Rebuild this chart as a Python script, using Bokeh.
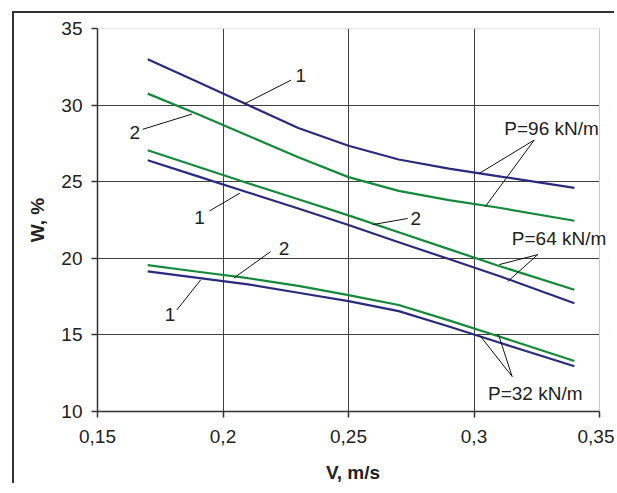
from bokeh.plotting import figure
from bokeh.models import Range1d, FixedTicker, Label
from bokeh.embed import file_html
from bokeh.resources import INLINE

# ---- data ----
v = [0.17, 0.19, 0.21, 0.23, 0.25, 0.27, 0.29, 0.31, 0.34]
w96_1 = [33.0, 31.5, 30.0, 28.5, 27.35, 26.45, 25.85, 25.35, 24.6]
w96_2 = [30.75, 29.4, 28.0, 26.6, 25.3, 24.4, 23.8, 23.3, 22.45]
w64_1 = [26.4, 25.35, 24.3, 23.25, 22.17, 21.05, 19.95, 18.85, 17.07]
w64_2 = [27.05, 25.98, 24.9, 23.85, 22.8, 21.7, 20.6, 19.5, 17.95]
w32_1 = [19.15, 18.72, 18.3, 17.75, 17.2, 16.55, 15.55, 14.5, 12.95]
w32_2 = [19.55, 19.12, 18.7, 18.2, 17.6, 16.95, 15.95, 14.9, 13.3]

x_ticks = [0.15, 0.2, 0.25, 0.3, 0.35]
x_tick_labels = ["0,15", "0,2", "0,25", "0,3", "0,35"]
y_ticks = [10, 15, 20, 25, 30, 35]

# annotation texts (centre positions in data units)
ann_text = ["1", "2", "1", "2", "2", "1", "P=96 kN/m", "P=64 kN/m", "P=32 kN/m"]
ann_x = [0.2310, 0.1649, 0.1907, 0.2768, 0.2243, 0.1789, 0.3309, 0.3339, 0.3244]
ann_y = [31.91, 28.2, 22.65, 22.6, 20.65, 16.30, 28.5, 21.26, 11.15]

# leader lines
lead_x0 = [0.2271, 0.1680, 0.1946, 0.2736, 0.3240, 0.3240, 0.3254, 0.3254, 0.3152, 0.3152, 0.2189, 0.1816]
lead_y0 = [31.63, 28.42, 23.09, 22.60, 27.72, 27.72, 20.24, 20.24, 12.28, 12.28, 20.43, 16.63]
lead_x1 = [0.2084, 0.1876, 0.2067, 0.2596, 0.3021, 0.3045, 0.3101, 0.3134, 0.3024, 0.3098, 0.2044, 0.1911]
lead_y1 = [30.07, 29.41, 24.25, 22.20, 25.54, 23.37, 19.59, 18.48, 14.95, 15.00, 18.72, 18.59]

NAVY = "#2a2a80"
GREEN = "#148a3a"
FONT = "Liberation Sans"

X0, X1 = x_ticks[0], x_ticks[-1]
Y0, Y1 = y_ticks[0], y_ticks[-1]
PX_PER_UNIT = 502 / (X1 - X0)

# outer frame drawn with CSS (margin 12/11 + 2px border)
ML, MT, BW = 12, 11, 2
BL, BT, FW, FH = 97 - ML - BW, 28 - MT - BW, 511, 383
X_END = X0 + FW / PX_PER_UNIT   # a little room so the right-hand labels are not clipped
WIDTH = 602
p = figure(width=WIDTH, height=BT + FH + 74, output_backend="svg", toolbar_location=None,
           x_range=Range1d(X0, X_END), y_range=Range1d(Y0, Y1),
           min_border_left=BL, min_border_right=WIDTH - BL - FW, min_border_top=BT,
           min_border_bottom=74)
p.styles = {"margin-left": f"{ML}px", "margin-top": f"{MT}px",
            "border-left": f"{BW}px solid #333333", "border-top": f"{BW}px solid #333333"}
p.outline_line_color = None

# axes
for ax in (p.xaxis[0], p.yaxis[0]):
    ax.axis_line_color = "#333333"
    ax.axis_line_width = 1.5
    ax.major_tick_line_color = "#333333"
    ax.major_tick_line_width = 1.5
    ax.major_tick_out = 6
    ax.major_tick_in = 0
    ax.minor_tick_line_color = None
    ax.major_label_text_font = FONT
    ax.major_label_text_font_size = "19px"
    ax.major_label_text_color = "#222222"
    ax.axis_label_text_font = FONT
    ax.axis_label_text_font_size = "19px"
    ax.axis_label_text_font_style = "bold"
    ax.axis_label_text_color = "#222222"

p.xaxis.ticker = FixedTicker(ticks=x_ticks)
p.xaxis.bounds = (X0, X1)
p.xaxis.major_label_overrides = dict(zip(x_ticks, x_tick_labels))
p.yaxis.ticker = FixedTicker(ticks=y_ticks)
p.xaxis.axis_label = "V, m/s"
p.yaxis.axis_label = "W, %"
p.xaxis.major_label_standoff = 12
p.yaxis.major_label_standoff = 9
p.xaxis.axis_label_standoff = 16
p.yaxis.axis_label_standoff = 10

p.xgrid.ticker = FixedTicker(ticks=x_ticks[1:-1])
p.ygrid.ticker = FixedTicker(ticks=y_ticks[1:-1])
for g in (p.xgrid[0], p.ygrid[0]):
    g.grid_line_color = "#404040"
    g.grid_line_width = 1

# blank out the strip right of the plot area (grid lines stop at X1)
p.quad(left=[X1 + 0.5 / PX_PER_UNIT], right=[X_END + 1], bottom=[Y0 - 5], top=[Y1 + 5],
       fill_color="white", line_color=None)

# light plot-area border (top and right)
p.segment(x0=[X0, X1], y0=[Y1, Y0], x1=[X1, X1], y1=[Y1, Y1], line_color="#cccccc", line_width=1)

# curves
for ys, c in ((w96_1, NAVY), (w96_2, GREEN), (w64_2, GREEN), (w64_1, NAVY),
              (w32_2, GREEN), (w32_1, NAVY)):
    p.line(v, ys, line_color=c, line_width=2.2)

# leader lines
p.segment(lead_x0, lead_y0, lead_x1, lead_y1, line_color="#111111", line_width=1)

# annotation texts
for t, x, y in zip(ann_text, ann_x, ann_y):
    p.add_layout(Label(x=x, y=y, text=t, text_align="center", text_baseline="middle",
                       text_font=FONT, text_font_size="19px", text_color="#222222"))

open("out.html", "w").write(file_html(p, INLINE))
